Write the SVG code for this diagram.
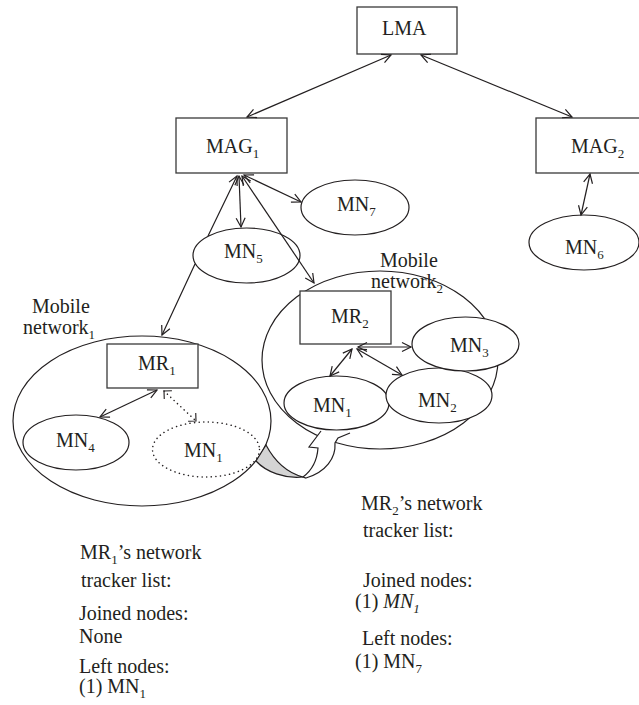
<svg xmlns="http://www.w3.org/2000/svg" width="639" height="705" viewBox="0 0 639 705" font-family="'Liberation Serif', 'DejaVu Serif', serif">
<style>
text{font-size:20px;fill:#231f20}
.sub{font-size:13px}
.box{fill:#fff;stroke:#3a3a3a;stroke-width:1.3}
.node{fill:#fff;stroke:#231f20;stroke-width:1.2}
.net{fill:none;stroke:#231f20;stroke-width:1.2}
.dot{fill:#fff;stroke:#231f20;stroke-width:1.5;stroke-dasharray:0.1 4.5;stroke-linecap:round}
.link{fill:none;stroke:#231f20;stroke-width:1.2;marker-start:url(#ah);marker-end:url(#ah)}
.dlink{fill:none;stroke:#231f20;stroke-width:1.5;stroke-dasharray:0.1 4.5;stroke-linecap:round;marker-start:url(#ah2);marker-end:url(#ah2)}
</style>
<defs>
<marker id="ah" viewBox="0 0 10 10" refX="10" refY="5" markerWidth="10" markerHeight="10" markerUnits="userSpaceOnUse" orient="auto-start-reverse" style="overflow:visible"><path d="M1,0.5 L10,5 L1,9.5" fill="none" stroke="#231f20" stroke-width="1.2"/></marker>
<marker id="ah2" viewBox="0 0 10 14" refX="10" refY="7" markerWidth="8" markerHeight="11.2" markerUnits="userSpaceOnUse" orient="auto-start-reverse" style="overflow:visible"><path d="M3,0 L10,7 L3,14" fill="none" stroke="#231f20" stroke-width="1.4"/></marker>
</defs>
<rect width="639" height="705" fill="#fff"/>

<g id="mobile-network1">
<ellipse class="net" cx="142" cy="421" rx="129" ry="85"/>
<text x="32" y="313">Mobile</text>
<text x="23" y="334">network<tspan class="sub" dy="5">1</tspan></text>
</g>
<g id="mobile-network2">
<ellipse class="net" cx="380" cy="360" rx="118" ry="89"/>
<text x="380" y="267">Mobile</text>
<text x="371" y="288">network<tspan class="sub" dy="5">2</tspan></text>
</g>

<g id="transfer-arrow">
<path d="M266,445 C275,462 288,473 303,477 C285,479 266,472 256,461 Z" fill="#d4d4d4" stroke="#231f20" stroke-width="1.2"/>
<path d="M321,431 L309,447 L318,448 C317,462 311,471 303,477 L306,478 C326,472 336,458 335,443 L338,438 L350,433" fill="#fff" stroke="#231f20" stroke-width="1.2"/>
</g>

<g id="LMA"><rect class="box" x="357" y="7" width="100" height="47"/><text x="382" y="35">LMA</text></g>
<g id="MAG1"><rect class="box" x="176" y="118" width="111" height="55"/><text x="206" y="153">MAG<tspan class="sub" dy="5">1</tspan></text></g>
<g id="MAG2"><rect class="box" x="536" y="118" width="111" height="55"/><text x="571" y="153">MAG<tspan class="sub" dy="5">2</tspan></text></g>
<g id="MN7"><ellipse class="node" cx="355" cy="207.5" rx="54" ry="27.5"/><text x="337" y="211">MN<tspan class="sub" dy="5">7</tspan></text></g>
<g id="MN5"><ellipse class="node" cx="246.5" cy="255.5" rx="53.5" ry="27.5"/><text x="224" y="258">MN<tspan class="sub" dy="5">5</tspan></text></g>
<g id="MN6"><ellipse class="node" cx="584" cy="242.5" rx="55" ry="27.5"/><text x="565" y="254">MN<tspan class="sub" dy="5">6</tspan></text></g>
<g id="MR1"><rect class="box" x="107" y="344" width="91" height="44"/><text x="138" y="370">MR<tspan class="sub" dy="5">1</tspan></text></g>
<g id="MN4"><ellipse class="node" cx="76" cy="442.5" rx="53" ry="27.5"/><text x="56" y="447">MN<tspan class="sub" dy="5">4</tspan></text></g>
<g id="MN1-left"><ellipse class="dot" cx="206" cy="449.5" rx="53.5" ry="27.5"/><text x="184" y="457">MN<tspan class="sub" dy="5">1</tspan></text></g>
<g id="MR2"><rect class="box" x="300" y="291" width="91" height="53"/><text x="331" y="323">MR<tspan class="sub" dy="5">2</tspan></text></g>
<g id="MN1-right"><ellipse class="node" cx="336.5" cy="403" rx="52.5" ry="27"/><text x="313" y="412">MN<tspan class="sub" dy="5">1</tspan></text></g>
<g id="MN2"><ellipse class="node" cx="439" cy="395.5" rx="53" ry="27.5"/><text x="418" y="407">MN<tspan class="sub" dy="5">2</tspan></text></g>
<g id="MN3"><ellipse class="node" cx="465.5" cy="344" rx="53.5" ry="27"/><text x="450" y="352">MN<tspan class="sub" dy="5">3</tspan></text></g>

<g id="connectors">
<path class="link" d="M391,55 L247,117"/>
<path class="link" d="M421,55 L572,117"/>
<path class="link" d="M590,174 L581,215"/>
<path class="link" d="M162,335 L195,264 M208,236 L237,176"/>
<path class="link" d="M241,227 L239,176"/>
<path class="link" d="M242,176 L314,283"/>
<path class="link" d="M244,175 L301,202"/>
<path class="link" d="M157,390 L100,417"/>
<path class="dlink" d="M164,391 L196,421"/>
<path class="link" d="M352,349 L330,376"/>
<path class="link" d="M358,347 L411,347"/>
<path class="link" d="M357,349 L402,375"/>
</g>

<g id="mr1-tracker">
<text x="80" y="559">MR<tspan class="sub" dy="5">1</tspan><tspan dy="-5">’s network</tspan></text>
<text x="81" y="587">tracker list:</text>
<text x="79" y="620">Joined nodes:</text>
<text x="79" y="643">None</text>
<text x="79" y="673">Left nodes:</text>
<text x="79" y="693">(1) MN<tspan class="sub" dy="5">1</tspan></text>
</g>
<g id="mr2-tracker">
<text x="361" y="510">MR<tspan class="sub" dy="5">2</tspan><tspan dy="-5">’s network</tspan></text>
<text x="363" y="537">tracker list:</text>
<text x="363" y="587">Joined nodes:</text>
<text x="355" y="608">(1) <tspan font-style="italic">MN</tspan><tspan class="sub" font-style="italic" dy="5">1</tspan></text>
<text x="362" y="645">Left nodes:</text>
<text x="355" y="668">(1) MN<tspan class="sub" dy="5">7</tspan></text>
</g>
</svg>
